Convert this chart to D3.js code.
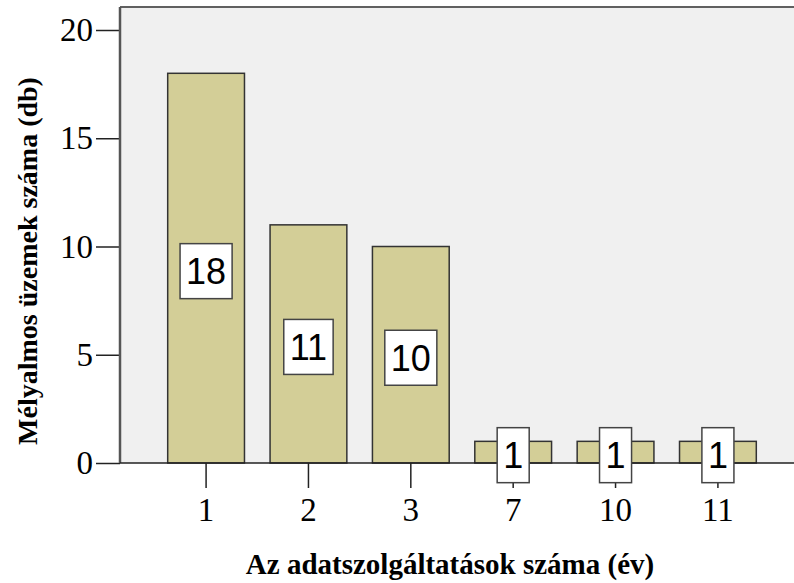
<!DOCTYPE html>
<html>
<head>
<meta charset="utf-8">
<script src="https://cdn.jsdelivr.net/npm/d3@7"></script>
<style>
  body { margin: 0; background: #fff; }
  svg { display: block; }
</style>
</head>
<body>
<svg id="chart" width="794" height="583"></svg>
<script>
var chartWidth = 794;
var chartHeight = 583;

/********
 * Data *
 ********/

var categories = ["1", "2", "3", "7", "10", "11"];
var counts = [18, 11, 10, 1, 1, 1];
var yTicks = [0, 5, 10, 15, 20];

var plotLeft = 120, plotRight = 804, plotTop = 7, plotBottom = 463;

/**********
 * Scales *
 **********/

var x = d3.scaleBand()
    .domain(categories)
    .range([plotLeft, plotRight])
    .paddingInner(0.25)
    .paddingOuter(0.466);

var y = d3.scaleLinear()
    .domain([0, 20])
    .range([plotBottom, 30]);

var svg = d3.select("#chart");

// plot background
svg.append("rect")
    .attr("x", plotLeft)
    .attr("y", plotTop)
    .attr("width", plotRight - plotLeft)
    .attr("height", plotBottom - plotTop)
    .attr("fill", "#f0f0f0");

// top frame line
svg.append("line")
    .attr("x1", plotLeft).attr("x2", plotRight)
    .attr("y1", plotTop).attr("y2", plotTop)
    .attr("stroke", "#606060")
    .attr("stroke-width", 2);

// bars
svg.selectAll("rect.bar")
    .data(counts)
    .enter().append("rect")
    .attr("class", "bar")
    .attr("x", function(d, i) { return x(categories[i]); })
    .attr("y", function(d) { return y(d); })
    .attr("width", x.bandwidth())
    .attr("height", function(d) { return y(0) - y(d); })
    .attr("fill", "#d3ce97")
    .attr("stroke", "#333")
    .attr("stroke-width", 1.5);

/********
 * Axes *
 ********/

var yAxis = d3.axisLeft(y)
    .tickValues(yTicks)
    .tickSize(24)
    .tickPadding(3);

var yAxisGroup = svg.append("g")
    .attr("transform", "translate(" + plotLeft + ",0)")
    .call(yAxis);
yAxisGroup.select(".domain").remove();
yAxisGroup.selectAll("line").attr("stroke", "#222").attr("stroke-width", 1.5);
yAxisGroup.selectAll("text")
    .attr("font-family", "Liberation Serif")
    .attr("font-size", "33px")
    .attr("fill", "#000");

svg.append("line")
    .attr("x1", plotLeft).attr("x2", plotLeft)
    .attr("y1", plotTop).attr("y2", plotBottom)
    .attr("stroke", "#555")
    .attr("stroke-width", 2.5);

var xAxis = d3.axisBottom(x)
    .tickSize(25)
    .tickPadding(10);

var xAxisGroup = svg.append("g")
    .attr("transform", "translate(0," + plotBottom + ")")
    .call(xAxis);
xAxisGroup.select(".domain").remove();
xAxisGroup.selectAll("line").attr("stroke", "#222").attr("stroke-width", 1.5);
xAxisGroup.selectAll("text")
    .attr("font-family", "Liberation Serif")
    .attr("font-size", "33px")
    .attr("fill", "#000");

svg.append("line")
    .attr("x1", plotLeft).attr("x2", plotRight)
    .attr("y1", plotBottom).attr("y2", plotBottom)
    .attr("stroke", "#222")
    .attr("stroke-width", 1.5);

// value labels
var labels = svg.selectAll("g.lbl")
    .data(counts)
    .enter().append("g")
    .attr("class", "lbl")
    .attr("transform", function(d, i) {
        return "translate(" + (x(categories[i]) + x.bandwidth() / 2) + "," + (y(d / 2) + 3) + ")";
    });

labels.append("rect").attr("class", "box");
labels.append("text")
    .attr("text-anchor", "middle")
    .attr("y", 13)
    .attr("font-family", "Liberation Sans")
    .attr("font-size", "36px")
    .attr("fill", "#000")
    .text(function(d) { return d; });

labels.each(function() {
    var g = d3.select(this);
    var w = g.select("text").node().getBBox().width + 12;
    g.select("rect")
        .attr("x", -w / 2)
        .attr("y", -27.5)
        .attr("width", w)
        .attr("height", 55)
        .attr("fill", "#fff")
        .attr("stroke", "#444")
        .attr("stroke-width", 1.5);
});

// axis titles
svg.append("text")
    .attr("text-anchor", "middle")
    .attr("x", 450)
    .attr("y", 574)
    .attr("font-family", "Liberation Serif")
    .attr("font-weight", "bold")
    .attr("font-size", "29px")
    .text("Az adatszolgáltatások száma (év)");

svg.append("text")
    .attr("text-anchor", "middle")
    .attr("transform", "translate(37,261) rotate(-90)")
    .attr("font-family", "Liberation Serif")
    .attr("font-weight", "bold")
    .attr("font-size", "28px")
    .text("Mélyalmos üzemek száma (db)");
</script>
</body>
</html>
